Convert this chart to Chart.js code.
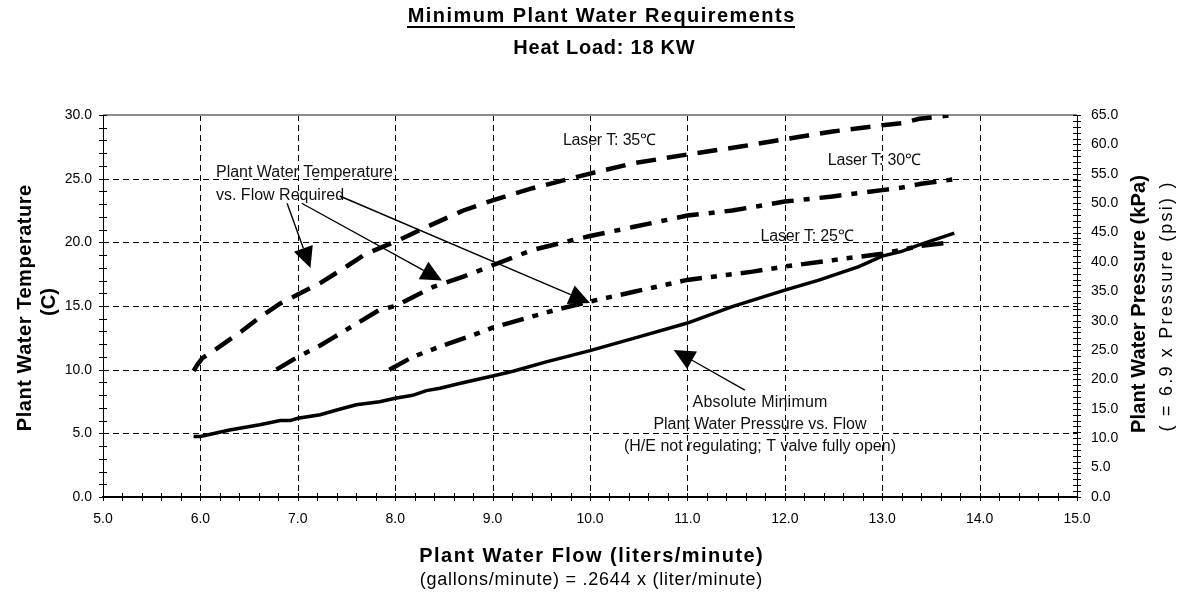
<!DOCTYPE html>
<html><head><meta charset="utf-8">
<script src="https://cdn.jsdelivr.net/npm/chart.js@4.4.0/dist/chart.umd.min.js"></script>
<style>html,body{margin:0;padding:0;background:#fff;overflow:hidden}</style>
</head><body>
<canvas id="c" width="1184" height="601" style="width:1184px;height:601px;display:block"></canvas>
<script>
// ---------- data ----------
const laser35Flow = [5.93, 5.97, 6.02, 6.15, 6.42, 6.59, 6.82, 7.0, 7.23, 7.5, 7.7, 8.0, 8.32, 8.7, 9.0, 9.41, 10.0, 10.44, 11.0, 11.53, 12.0, 12.49, 13.0, 13.2, 13.38, 13.68];
const laser35Temp = [9.9, 10.4, 10.9, 11.55, 13.0, 14.0, 15.2, 15.9, 16.8, 18.1, 19.1, 20.05, 21.2, 22.5, 23.3, 24.25, 25.4, 26.2, 26.9, 27.5, 28.1, 28.7, 29.2, 29.35, 29.7, 29.95];

const laser30Flow = [6.78, 7.0, 7.23, 7.36, 7.6, 7.84, 8.0, 8.39, 8.7, 9.0, 9.41, 10.0, 10.44, 11.0, 11.46, 12.0, 12.49, 13.0, 13.2, 13.4, 13.74];
const laser30Temp = [10.0, 11.0, 11.9, 12.5, 13.6, 14.7, 15.0, 16.5, 17.3, 18.2, 19.4, 20.5, 21.2, 22.1, 22.5, 23.2, 23.6, 24.1, 24.3, 24.6, 24.95];

const laser25Flow = [7.94, 8.18, 8.49, 8.76, 9.0, 9.65, 10.0, 10.44, 11.0, 11.67, 12.0, 12.49, 13.0, 13.38, 13.7];
const laser25Temp = [10.0, 11.0, 11.9, 12.6, 13.3, 14.7, 15.35, 16.1, 17.05, 17.7, 18.1, 18.6, 19.1, 19.7, 20.0];

const pressureFlow = [5.93, 6.0, 6.3, 6.61, 6.82, 6.92, 7.0, 7.23, 7.4, 7.6, 7.84, 8.0, 8.18, 8.32, 8.46, 8.66, 9.0, 9.21, 9.55, 10.0, 10.51, 11.0, 11.46, 12.0, 12.35, 12.76, 13.0, 13.2, 13.38, 13.74];
const pressureKPa = [10.3, 10.3, 11.4, 12.3, 13.0, 13.0, 13.4, 14.0, 14.8, 15.7, 16.2, 16.8, 17.3, 18.1, 18.5, 19.3, 20.6, 21.4, 23.0, 24.9, 27.3, 29.6, 32.4, 35.2, 36.9, 39.2, 41.0, 41.8, 42.9, 44.9];

const flowRange = [5, 15];
const tempRange = [0, 30];
const pressureRange = [0, 65];

const chartTitle = "Minimum Plant Water Requirements";
const chartSubtitle = "Heat Load: 18 KW";
const xTitle = "Plant Water Flow (liters/minute)";
const xSubtitle = "(gallons/minute) = .2644 x (liter/minute)";
const yTitle = ["Plant Water Temperature", "(C)"];
const y2Title = "Plant Water Pressure (kPa)";
const y2Subtitle = "( = 6.9 x Pressure (psi) )";

// annotation labels in data coordinates (flow, temperature)
const labelTexts = ["Laser T: 35\u2103", "Laser T: 30\u2103", "Laser T: 25\u2103"];
const labelPos = [[10.2, 27.96], [12.92, 26.39], [12.23, 20.42]];
const noteTemp = ["Plant Water Temperature", "vs. Flow Required"];
const noteTempPos = [[6.16, 25.5], [6.16, 23.7]];
const notePress = ["Absolute Minimum", "Plant Water Pressure vs. Flow", "(H/E not regulating; T valve fully open)"];
const notePressPos = [[11.745, 7.38], [11.745, 5.65], [11.745, 3.93]];
const arrows = [
  [[6.89, 23.07], [7.13, 17.98]],
  [[7.04, 23.07], [8.48, 17.0]],
  [[7.43, 23.64], [10.0, 15.24]],
  [[11.59, 8.40], [10.86, 11.55]]
];

function pts(xs, ys) { return xs.map((x, i) => ({x: x, y: ys[i]})); }

const FONT = "'Liberation Sans', Arial, sans-serif";

function drawFit(ctx, text, x, y, font, width, align) {
  ctx.font = font;
  try { ctx.letterSpacing = '0px'; } catch (e) {}
  let w = ctx.measureText(text).width;
  let ls = 0;
  if (width) ls = (width - w) / text.length;
  try { ctx.letterSpacing = ls + 'px'; } catch (e) { ls = 0; }
  ctx.textAlign = align || 'center';
  ctx.textBaseline = 'middle';
  let dx = 0;
  if (align === 'center' || !align) dx = ls / 2;
  ctx.fillText(text, x + dx, y);
  try { ctx.letterSpacing = '0px'; } catch (e) {}
}

const deco = {
  id: 'deco',
  beforeDatasetsDraw(chart) {
    const {ctx, chartArea: a, scales} = chart;
    const xs = scales.x, ys = scales.y, y2 = scales.y2;
    ctx.save();
    ctx.strokeStyle = '#000';
    ctx.lineWidth = 1;
    ctx.setLineDash([6, 4]);
    for (let v = flowRange[0] + 1; v < flowRange[1]; v++) {
      const px = Math.round(xs.getPixelForValue(v)) + 0.5;
      ctx.beginPath(); ctx.moveTo(px, a.top); ctx.lineTo(px, a.bottom); ctx.stroke();
    }
    for (let v = tempRange[0] + 5; v < tempRange[1]; v += 5) {
      const py = Math.round(ys.getPixelForValue(v)) + 0.5;
      ctx.beginPath(); ctx.moveTo(a.left, py); ctx.lineTo(a.right, py); ctx.stroke();
    }
    ctx.setLineDash([]);
    ctx.strokeStyle = '#8c8c8c';
    ctx.lineWidth = 2;
    ctx.beginPath(); ctx.moveTo(a.left, a.top); ctx.lineTo(a.right, a.top); ctx.stroke();
    ctx.strokeStyle = '#000';
    ctx.lineWidth = 1;
    for (let v = flowRange[0]; v <= flowRange[1] + 1e-9; v += 0.2) {
      const px = Math.round(xs.getPixelForValue(v)) + 0.5;
      ctx.beginPath(); ctx.moveTo(px, a.bottom - 4); ctx.lineTo(px, a.bottom + 4); ctx.stroke();
    }
    for (let v = tempRange[0]; v <= tempRange[1]; v += 1) {
      const py = Math.round(ys.getPixelForValue(v)) + 0.5;
      ctx.beginPath(); ctx.moveTo(a.left - 4, py); ctx.lineTo(a.left + 4, py); ctx.stroke();
    }
    for (let v = pressureRange[0]; v <= pressureRange[1]; v += 1) {
      const py = Math.round(y2.getPixelForValue(v)) + 0.5;
      ctx.beginPath(); ctx.moveTo(a.right - 4, py); ctx.lineTo(a.right + 4, py); ctx.stroke();
    }
    ctx.restore();
  },
  afterDatasetsDraw(chart) {
    const {ctx, scales} = chart;
    const xs = scales.x, ys = scales.y;
    const P = (p) => [xs.getPixelForValue(p[0]), ys.getPixelForValue(p[1])];
    ctx.save();
    ctx.fillStyle = '#111';
    labelTexts.forEach((t, i) => {
      const [px, py] = P(labelPos[i]);
      drawFit(ctx, t, px, py, '16px ' + FONT, 93, 'center');
    });
    noteTemp.forEach((t, i) => {
      const [px, py] = P(noteTempPos[i]);
      drawFit(ctx, t, px, py, '16px ' + FONT, i === 0 ? 177 : 0, 'left');
    });
    const widths = [135, 213, 272];
    notePress.forEach((t, i) => {
      const [px, py] = P(notePressPos[i]);
      drawFit(ctx, t, px, py, '16px ' + FONT, widths[i], 'center');
    });
    ctx.strokeStyle = '#000';
    ctx.fillStyle = '#000';
    ctx.lineWidth = 1.4;
    arrows.forEach(([s, e]) => {
      const [x1, y1] = P(s), [x2, y2] = P(e);
      const ang = Math.atan2(y2 - y1, x2 - x1);
      const L = 21, W = 10;
      const bx = x2 - L * Math.cos(ang), by = y2 - L * Math.sin(ang);
      ctx.beginPath(); ctx.moveTo(x1, y1); ctx.lineTo(bx, by); ctx.stroke();
      ctx.beginPath();
      ctx.moveTo(x2, y2);
      ctx.lineTo(bx + W * Math.sin(ang), by - W * Math.cos(ang));
      ctx.lineTo(bx - W * Math.sin(ang), by + W * Math.cos(ang));
      ctx.closePath(); ctx.fill();
    });
    ctx.restore();
  },
  afterDraw(chart) {
    const {ctx} = chart;
    ctx.save();
    ctx.fillStyle = '#000';
    drawFit(ctx, chartTitle, 601, 16, 'bold 20px ' + FONT, 388, 'center');
    ctx.fillRect(407, 26, 388, 2);
    drawFit(ctx, chartSubtitle, 604, 48, 'bold 20px ' + FONT, 182, 'center');
    drawFit(ctx, xTitle, 591, 556, 'bold 20px ' + FONT, 345, 'center');
    drawFit(ctx, xSubtitle, 591, 580, '18px ' + FONT, 343, 'center');
    ctx.save();
    ctx.translate(25, 308); ctx.rotate(-Math.PI / 2);
    drawFit(ctx, yTitle[0], 0, 0, 'bold 20px ' + FONT, 247, 'center');
    ctx.restore();
    ctx.save();
    ctx.translate(49, 302); ctx.rotate(-Math.PI / 2);
    drawFit(ctx, yTitle[1], 0, 0, 'bold 20px ' + FONT, 0, 'center');
    ctx.restore();
    ctx.save();
    ctx.translate(1139, 304); ctx.rotate(-Math.PI / 2);
    drawFit(ctx, y2Title, 0, 0, 'bold 20px ' + FONT, 258, 'center');
    ctx.restore();
    ctx.save();
    ctx.translate(1167, 307); ctx.rotate(-Math.PI / 2);
    drawFit(ctx, y2Subtitle, 0, 0, '18px ' + FONT, 251, 'center');
    ctx.restore();
    ctx.restore();
  }
};

const tickFont = {family: FONT, size: 14};
const fmt = (v) => Number(v).toFixed(1);

new Chart(document.getElementById('c'), {
  type: 'line',
  data: {
    datasets: [
      {label: 'Laser T: 35', data: pts(laser35Flow, laser35Temp), yAxisID: 'y', borderColor: '#000', borderWidth: 4.5, borderDash: [20, 11], borderCapStyle: 'butt'},
      {label: 'Laser T: 30', data: pts(laser30Flow, laser30Temp), yAxisID: 'y', borderColor: '#000', borderWidth: 4.5, borderDash: [22, 10, 6, 10], borderCapStyle: 'butt'},
      {label: 'Laser T: 25', data: pts(laser25Flow, laser25Temp), yAxisID: 'y', borderColor: '#000', borderWidth: 4.5, borderDash: [22, 9, 6, 9, 6, 9], borderCapStyle: 'butt'},
      {label: 'Pressure', data: pts(pressureFlow, pressureKPa), yAxisID: 'y2', borderColor: '#000', borderWidth: 3.5}
    ]
  },
  options: {
    responsive: false,
    animation: false,
    devicePixelRatio: 1,
    layout: {padding: {top: 115, left: 0, right: 0, bottom: 0}},
    elements: {point: {radius: 0}, line: {tension: 0, fill: false}},
    plugins: {legend: {display: false}, title: {display: false}, tooltip: {enabled: false}},
    scales: {
      x: {
        type: 'linear', min: flowRange[0], max: flowRange[1],
        ticks: {stepSize: 1, callback: fmt, font: tickFont, color: '#000', padding: 14, maxRotation: 0, autoSkip: false},
        grid: {display: false, drawTicks: false},
        border: {display: true, color: '#000', width: 2},
        afterFit(s) { s.height = 104; }
      },
      y: {
        position: 'left', min: tempRange[0], max: tempRange[1],
        ticks: {stepSize: 5, callback: fmt, font: tickFont, color: '#000', padding: 11, autoSkip: false},
        grid: {display: false, drawTicks: false},
        border: {display: true, color: '#000', width: 1},
        afterFit(s) { s.width = 103; }
      },
      y2: {
        position: 'right', min: pressureRange[0], max: pressureRange[1],
        ticks: {stepSize: 5, callback: fmt, font: tickFont, color: '#000', padding: 14, autoSkip: false},
        grid: {display: false, drawTicks: false},
        border: {display: true, color: '#000', width: 1},
        afterFit(s) { s.width = 107; }
      }
    }
  },
  plugins: [deco]
});
</script>
</body></html>
